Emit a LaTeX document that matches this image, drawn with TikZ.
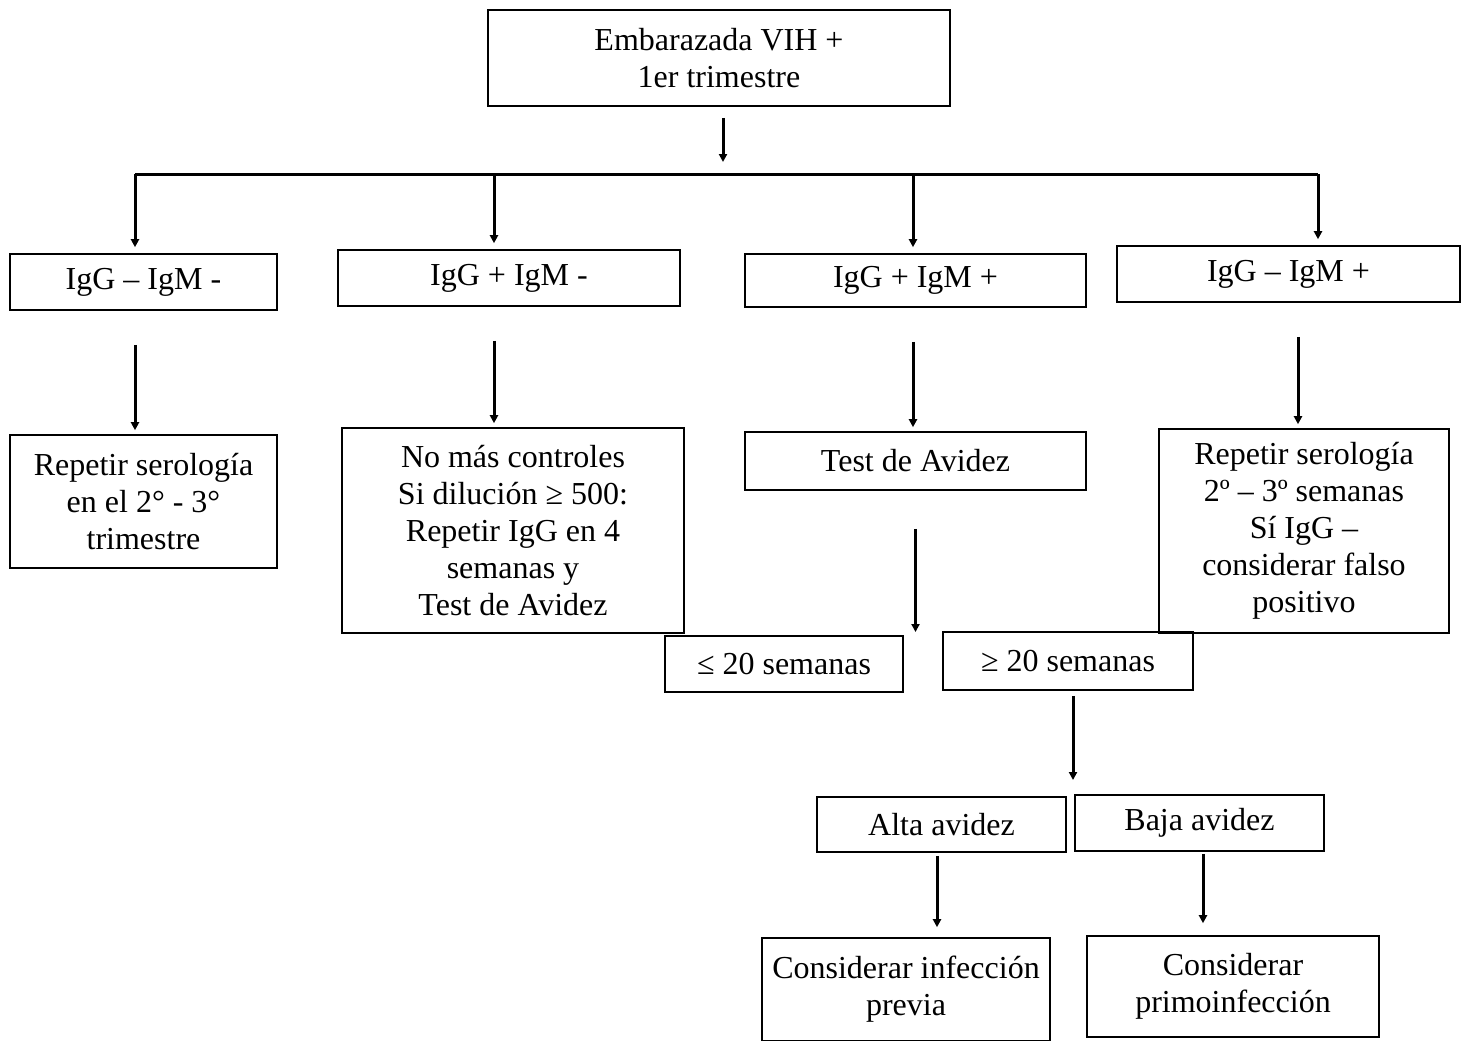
\documentclass[tikz,border=0pt]{standalone}
\usepackage{fontspec}
\setmainfont{Liberation Serif}
\usetikzlibrary{arrows.meta}
\tikzset{
  box/.style={draw, line width=0.8pt, align=center, inner sep=0pt, font=\fontsize{16}{18.5}\selectfont},
  arr/.style={line width=1.5pt, -{Triangle[length=4pt,width=4pt]}},
}
\begin{document}
\begin{tikzpicture}[x=0.5pt, y=-0.5pt]
\useasboundingbox (0,0) rectangle (1468,1040);
\node[box, minimum width=231pt, minimum height=48pt] (top) at (719,58) {Embarazada VIH +\\1er trimestre};
\node[box, minimum width=133.5pt, minimum height=28pt] (gneg) at (143.5,282) {IgG – IgM -};
\node[box, minimum width=171pt, minimum height=28pt] (gpos) at (509,278) {IgG + IgM -};
\node[box, minimum width=170.5pt, minimum height=26.5pt] (both) at (915.5,280.5) {IgG + IgM +};
\node[box, minimum width=171.5pt, minimum height=28pt] (mpos) at (1288.5,274) {IgG – IgM +};
\node[box, minimum width=133.5pt, minimum height=66.5pt] (rep1) at (143.5,501.5) {Repetir serología\\en el 2° - 3°\\trimestre};
\node[box, minimum width=171pt, minimum height=102.5pt] (nomas) at (513,530.5) {No más controles\\Si dilución ≥ 500:\\Repetir IgG en 4\\semanas y\\Test de Avidez};
\node[box, minimum width=170.5pt, minimum height=29pt] (test) at (915.5,461) {Test de Avidez};
\node[box, minimum width=145pt, minimum height=102pt] (rep2) at (1304,531) {Repetir serología\\2º – 3º semanas\\Sí IgG –\\considerar falso\\positivo};
\node[box, minimum width=119pt, minimum height=28pt] (le20) at (784,664) {≤ 20 semanas};
\node[box, minimum width=125pt, minimum height=29pt] (ge20) at (1068,661) {≥ 20 semanas};
\node[box, minimum width=124.5pt, minimum height=27.5pt] (alta) at (941.5,824.5) {Alta avidez};
\node[box, minimum width=124.5pt, minimum height=28pt] (baja) at (1199.5,823) {Baja avidez};
\node[box, minimum width=144pt, minimum height=51.5pt] (prev) at (906,989.5) {Considerar infección\\previa};
\node[box, minimum width=146pt, minimum height=50.5pt] (primo) at (1233,986.5) {Considerar\\primoinfección};
\coordinate (b1) at (135,174);
\coordinate (b2) at (494,174);
\coordinate (b3) at (913,174);
\coordinate (b4) at (1318,174);
\coordinate (split) at (915.5,632);
\coordinate (fork) at (1073,780);
\draw[arr, shorten <=5.5pt, shorten >=6pt] ([xshift=2pt]top.south) -- ([xshift=2pt]top.south |- b1);
\draw[line width=1.5pt] (b1) -- (b4);
\foreach \b/\n in {b1/gneg, b2/gpos, b3/both, b4/mpos}
  \draw[arr, shorten >=3pt] (\b) -- (\b |- \n.north);
\foreach \n/\m/\d in {gneg/rep1/-4.25pt, gpos/nomas/-7.5pt, both/test/-1.25pt, mpos/rep2/4.75pt}
  \draw[arr, shorten <=17pt, shorten >=2pt] ([xshift=\d]\n.south) -- ([xshift=\d]\n.south |- \m.north);
\draw[arr, shorten <=19pt] (test.south) -- (test.south |- split);
\draw[arr, shorten <=2.5pt] (ge20.south -| fork) -- (fork);
\draw[arr, shorten <=1.5pt, shorten >=5pt] ([xshift=-2.25pt]alta.south) -- ([xshift=-2.25pt]alta.south |- prev.north);
\draw[arr, shorten <=1pt, shorten >=6pt] ([xshift=1.75pt]baja.south) -- ([xshift=1.75pt]baja.south |- primo.north);
\end{tikzpicture}
\end{document}
